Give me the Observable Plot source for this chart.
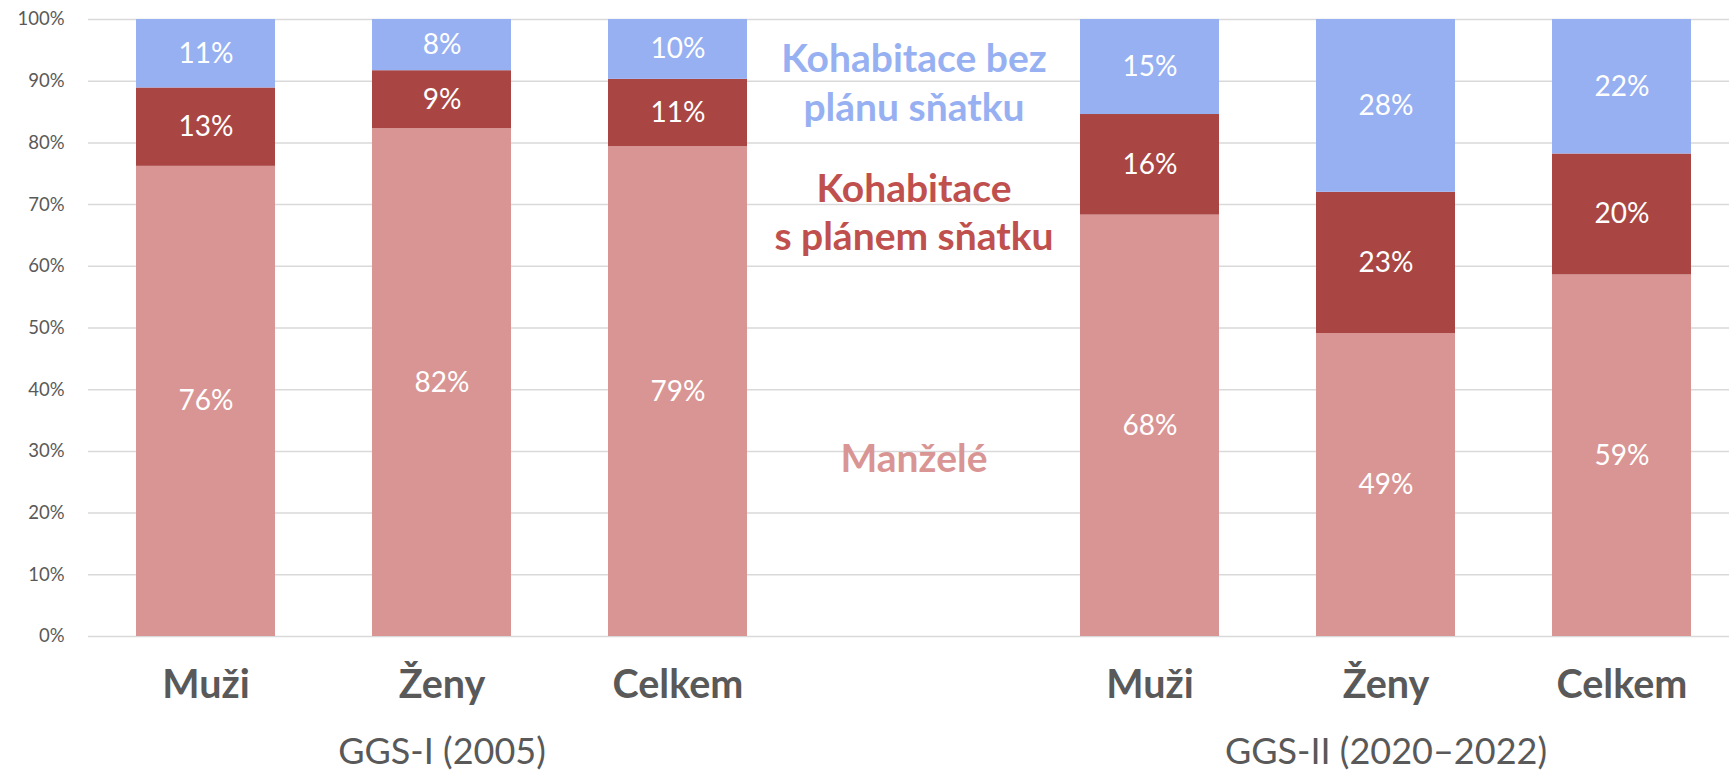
<!DOCTYPE html>
<html>
<head>
<meta charset="utf-8">
<script src="https://cdn.jsdelivr.net/npm/d3@7"></script>
<script src="https://cdn.jsdelivr.net/npm/@observablehq/plot@0.6"></script>
<style>
  html, body { margin: 0; padding: 0; background: #fff; }
  svg { display: block; }
</style>
</head>
<body>
<div id="chart"></div>
<script>
// ---- data ----
const barKeys = ["I-Muži", "I-Ženy", "I-Celkem", "mezera", "II-Muži", "II-Ženy", "II-Celkem"];
const barNames = ["Muži", "Ženy", "Celkem", "", "Muži", "Ženy", "Celkem"];
const dataKeys = ["I-Muži", "I-Ženy", "I-Celkem", "II-Muži", "II-Ženy", "II-Celkem"];
const series = ["Manželé", "Kohabitace s plánem sňatku", "Kohabitace bez plánu sňatku"];
const manzele = [76.2, 82.3, 79.4, 68.3, 49.1, 58.6];
const sPlanem = [12.7, 9.4, 10.9, 16.3, 22.9, 19.6];
const bezPlanu = [11.1, 8.3, 9.7, 15.4, 28.0, 21.8];
const surveys = ["GGS-I (2005)", "GGS-II (2020–2022)"];
const surveyKeys = ["I-Ženy", "II-Ženy"];
const yTicks = [0, 10, 20, 30, 40, 50, 60, 70, 80, 90, 100];
const annotTexts = ["Kohabitace bez\nplánu sňatku", "Kohabitace\ns plánem sňatku", "Manželé"];
const annotY = [90.0, 69.0, 29.1];

const colors = ["#D99594", "#A94644", "#97B0F2"];
const annotColors = ["#97B0F2", "#C0504D", "#D99594"];

const rows = [];
[manzele, sPlanem, bezPlanu].forEach((vals, si) => {
  vals.forEach((v, i) => rows.push({key: dataKeys[i], series: series[si], value: v}));
});

const chart = Plot.plot({
  width: 1729,
  height: 772,
  marginTop: 19,
  marginBottom: 136,
  marginLeft: 88,
  marginRight: 0,
  style: {fontFamily: "Lato, 'Open Sans', sans-serif", background: "#fff", color: "#595959"},
  x: {domain: barKeys, range: [37, 1790], padding: 0.412, axis: null, label: null},
  y: {domain: [0, 100], axis: null, label: null},
  color: {domain: series, range: colors},
  marks: [
    Plot.ruleY(yTicks, {stroke: "#d9d9d9", strokeWidth: 1.5}),
    Plot.axisY(yTicks, {tickSize: 0, tickPadding: 24, tickFormat: d => d + "%", fontSize: 18.5, label: null}),
    Plot.barY(rows, {x: "key", y: "value", fill: "series", order: series}),
    Plot.text(rows, Plot.stackY({
      x: "key", y: "value", z: "series", order: series,
      text: d => Math.round(d.value) + "%",
      fill: "white", fontSize: 28
    })),
    Plot.axisX(barKeys, {
      tickSize: 0, tickPadding: 33, fontSize: 39.5, fontWeight: "bold", label: null,
      tickFormat: k => barNames[barKeys.indexOf(k)]
    }),
    Plot.text(surveys, {
      x: (d, i) => surveyKeys[i], text: d => d,
      frameAnchor: "bottom", lineAnchor: "middle", dy: 116, fontSize: 36, fill: "#595959"
    }),
    ...annotTexts.map((t, i) => Plot.text([t], {
      x: () => "mezera", y: () => annotY[i], text: d => d,
      fill: annotColors[i], fontSize: 39, fontWeight: "bold", lineHeight: 1.24
    }))
  ]
});

document.getElementById("chart").appendChild(chart);
</script>
</body>
</html>
